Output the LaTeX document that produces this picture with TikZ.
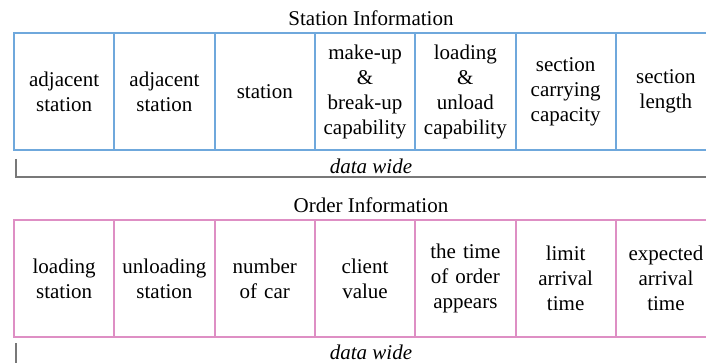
\documentclass[tikz,border=0pt]{standalone}
\usepackage{fontspec}
\setmainfont{Liberation Serif}
\definecolor{stationblue}{RGB}{111,168,220}
\definecolor{orderpink}{RGB}{222,143,196}
\definecolor{bracketgray}{RGB}{120,120,120}
\tikzset{
  cell/.style={draw, line width=2pt, minimum width=100.3pt, minimum height=117pt,
    inner sep=0pt, text width=98pt, align=center,
    font=\fontsize{21}{25}\selectfont},
  stationcell/.style={cell, draw=stationblue},
  ordercell/.style={cell, draw=orderpink},
  heading/.style={font=\fontsize{21}{25}\selectfont, inner sep=0pt},
  widthlabel/.style={font=\fontsize{21}{25}\selectfont\itshape, inner sep=0pt},
  bracket/.style={draw=bracketgray, line width=1.3pt}
}
\begin{document}
\begin{tikzpicture}[x=1pt, y=-1pt]
\useasboundingbox (0,0) rectangle (706,363);
\clip (0,0) rectangle (706,363);

% ---- station record ----
\node[heading] (sttitle) at (371,18) {Station Information};
\foreach \i/\t in {1/{adjacent\\station}, 2/{adjacent\\station}, 3/{station},
                   4/{make-up\\\&\\break-up\\capability}, 5/{loading\\\&\\unload\\capability},
                   6/{section\\carrying\\capacity}, 7/{section\\length}}
  \node[stationcell] (st\i) at ({14+50.15+(\i-1)*100.3},91.5) {\t};

\coordinate (sttop) at (16,159);
\coordinate (stcorner) at (16,177);
\coordinate (stend) at (720,177);
\draw[bracket] (sttop) -- (stcorner) -- (stend);
\node[widthlabel] (stwide) at (371,166) {data wide};

% ---- order record ----
\node[heading] (odtitle) at (371,205) {Order Information};
\foreach \i/\t in {1/{loading\\station}, 2/{unloading\\station}, 3/{number\\of car},
                   4/{client\\value}, 5/{the time\\of order\\appears},
                   6/{limit\\arrival\\time}, 7/{expected\\arrival\\time}}
  \node[ordercell] (od\i) at ({14+50.15+(\i-1)*100.3},278.5) {\t};

\coordinate (odtop) at (16,343);
\coordinate (odcorner) at (16,370);
\draw[bracket] (odtop) -- (odcorner);
\node[widthlabel] (odwide) at (371,352) {data wide};
\end{tikzpicture}
\end{document}
